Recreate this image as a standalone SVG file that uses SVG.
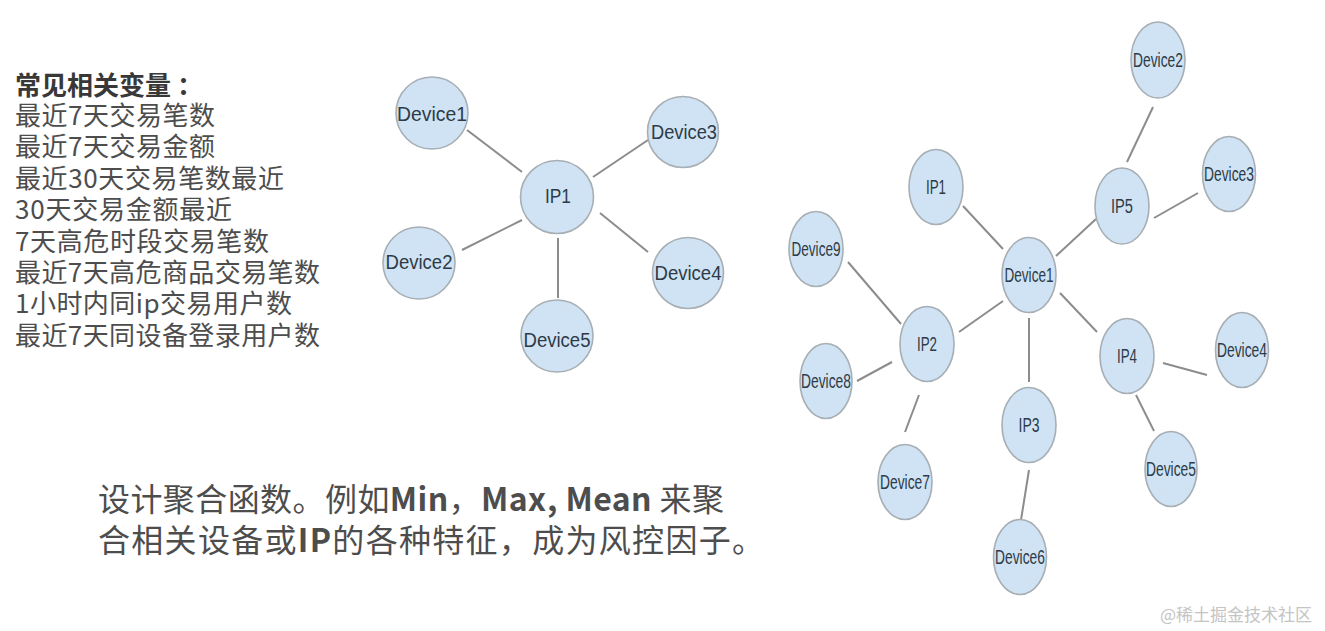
<svg xmlns="http://www.w3.org/2000/svg" width="1325" height="631" viewBox="0 0 1325 631">
<style>
.n{fill:#cfe3f4;stroke:#a7aeb4;stroke-width:1.6}
.e{stroke:#8c8c8c;stroke-width:2;fill:none}
.lb{font-family:"Liberation Sans",Arial,sans-serif;font-size:20px;fill:#2e3b47;text-anchor:middle}
.cj{font-family:"Noto Sans CJK SC",sans-serif;fill:#4d4d4d}
.hd{font-weight:bold;fill:#383838}
.lat{font-weight:bold}
</style>
<rect x="0" y="0" width="1325" height="631" fill="#ffffff"/>

<g id="variables" class="cj" font-size="26">
<text class="hd" x="15" y="95">常见相关变量 ：</text>
<text x="15" y="125" textLength="200">最近7天交易笔数</text>
<text x="15" y="156.4" textLength="200">最近7天交易金额</text>
<text x="15" y="187.8" textLength="269">最近30天交易笔数最近</text>
<text x="15" y="219.2" textLength="217">30天交易金额最近</text>
<text x="15" y="250.6" textLength="254">7天高危时段交易笔数</text>
<text x="15" y="282" textLength="305">最近7天高危商品交易笔数</text>
<text x="15" y="313.4" textLength="277">1小时内同ip交易用户数</text>
<text x="15" y="344.8" textLength="305">最近7天同设备登录用户数</text>
</g>

<g id="connectors">
<line class="e" x1="467" y1="130" x2="522" y2="172"/>
<line class="e" x1="648" y1="140" x2="593" y2="177"/>
<line class="e" x1="462" y1="250" x2="522" y2="220"/>
<line class="e" x1="648" y1="252" x2="600" y2="213"/>
<line class="e" x1="558" y1="238" x2="558" y2="298"/>
<line class="e" x1="963" y1="206" x2="1003" y2="249"/>
<line class="e" x1="848" y1="262" x2="901" y2="324"/>
<line class="e" x1="1003" y1="301" x2="959" y2="332"/>
<line class="e" x1="857" y1="381" x2="892" y2="362"/>
<line class="e" x1="1029" y1="318" x2="1029" y2="382"/>
<line class="e" x1="1056" y1="256" x2="1096" y2="219"/>
<line class="e" x1="1153" y1="107" x2="1127" y2="162"/>
<line class="e" x1="1198" y1="193" x2="1154" y2="218"/>
<line class="e" x1="1060" y1="293" x2="1097" y2="332"/>
<line class="e" x1="1163" y1="363" x2="1207" y2="375"/>
<line class="e" x1="1136" y1="395" x2="1154" y2="431"/>
<line class="e" x1="919" y1="395" x2="905" y2="432"/>
<line class="e" x1="1029" y1="470" x2="1021" y2="520"/>
</g>

<g id="L-Device1"><circle class="n" cx="432" cy="113" r="36"/><text class="lb" x="432" y="120.5" textLength="70" lengthAdjust="spacingAndGlyphs">Device1</text></g>
<g id="L-Device3"><circle class="n" cx="683" cy="132" r="35.5"/><text class="lb" x="684" y="138.5" textLength="66" lengthAdjust="spacingAndGlyphs">Device3</text></g>
<g id="L-IP1"><circle class="n" cx="557" cy="197" r="36.5"/><text class="lb" x="558" y="203" textLength="26" lengthAdjust="spacingAndGlyphs">IP1</text></g>
<g id="L-Device2"><circle class="n" cx="419" cy="263" r="36"/><text class="lb" x="419" y="268.5" textLength="67" lengthAdjust="spacingAndGlyphs">Device2</text></g>
<g id="L-Device4"><circle class="n" cx="688" cy="273" r="35.5"/><text class="lb" x="688" y="280" textLength="67" lengthAdjust="spacingAndGlyphs">Device4</text></g>
<g id="L-Device5"><circle class="n" cx="557" cy="336" r="36"/><text class="lb" x="557" y="346.5" textLength="67" lengthAdjust="spacingAndGlyphs">Device5</text></g>

<g id="R-Device2"><ellipse class="n" cx="1158" cy="60" rx="27" ry="38"/><text class="lb" x="1158" y="67" textLength="50" lengthAdjust="spacingAndGlyphs">Device2</text></g>
<g id="R-Device3"><ellipse class="n" cx="1229" cy="174" rx="26.5" ry="37.5"/><text class="lb" x="1229" y="181" textLength="50" lengthAdjust="spacingAndGlyphs">Device3</text></g>
<g id="R-IP5"><ellipse class="n" cx="1122" cy="206" rx="27" ry="38"/><text class="lb" x="1122" y="213" textLength="22" lengthAdjust="spacingAndGlyphs">IP5</text></g>
<g id="R-IP1"><ellipse class="n" cx="936" cy="187" rx="27" ry="37.5"/><text class="lb" x="936" y="194" textLength="20" lengthAdjust="spacingAndGlyphs">IP1</text></g>
<g id="R-Device9"><ellipse class="n" cx="816" cy="249" rx="27" ry="37.5"/><text class="lb" x="816" y="256" textLength="49" lengthAdjust="spacingAndGlyphs">Device9</text></g>
<g id="R-Device1"><ellipse class="n" cx="1029" cy="275" rx="27" ry="37.5"/><text class="lb" x="1029" y="281.5" textLength="49" lengthAdjust="spacingAndGlyphs">Device1</text></g>
<g id="R-IP2"><ellipse class="n" cx="927" cy="344" rx="27" ry="37.5"/><text class="lb" x="927" y="351" textLength="20" lengthAdjust="spacingAndGlyphs">IP2</text></g>
<g id="R-Device8"><ellipse class="n" cx="826" cy="381" rx="26" ry="37.5"/><text class="lb" x="826" y="388" textLength="50" lengthAdjust="spacingAndGlyphs">Device8</text></g>
<g id="R-IP4"><ellipse class="n" cx="1127" cy="356" rx="27" ry="37.5"/><text class="lb" x="1127" y="363" textLength="20" lengthAdjust="spacingAndGlyphs">IP4</text></g>
<g id="R-Device4"><ellipse class="n" cx="1242" cy="350" rx="26.5" ry="37.5"/><text class="lb" x="1242" y="357" textLength="50" lengthAdjust="spacingAndGlyphs">Device4</text></g>
<g id="R-IP3"><ellipse class="n" cx="1029" cy="425" rx="27" ry="37.5"/><text class="lb" x="1029" y="432" textLength="21" lengthAdjust="spacingAndGlyphs">IP3</text></g>
<g id="R-Device5"><ellipse class="n" cx="1171" cy="469" rx="26" ry="37.5"/><text class="lb" x="1171" y="476" textLength="50" lengthAdjust="spacingAndGlyphs">Device5</text></g>
<g id="R-Device7"><ellipse class="n" cx="905" cy="482" rx="27" ry="37.5"/><text class="lb" x="905" y="489" textLength="50" lengthAdjust="spacingAndGlyphs">Device7</text></g>
<g id="R-Device6"><ellipse class="n" cx="1020" cy="557" rx="26.5" ry="37.5"/><text class="lb" x="1020" y="564" textLength="50" lengthAdjust="spacingAndGlyphs">Device6</text></g>

<g id="summary" class="cj" font-size="32" fill="#474747">
<text x="98" y="511" textLength="626">设计聚合函数。例如<tspan class="lat">Min</tspan>，<tspan class="lat">Max, Mean</tspan> 来聚</text>
<text x="98" y="552" textLength="666">合相关设备或<tspan class="lat">IP</tspan>的各种特征，成为风控因子。</text>
</g>

<text id="watermark" x="1160" y="621" font-family="'Noto Sans CJK SC',sans-serif" font-size="17" fill="#c4c4c4">@稀土掘金技术社区</text>
</svg>
